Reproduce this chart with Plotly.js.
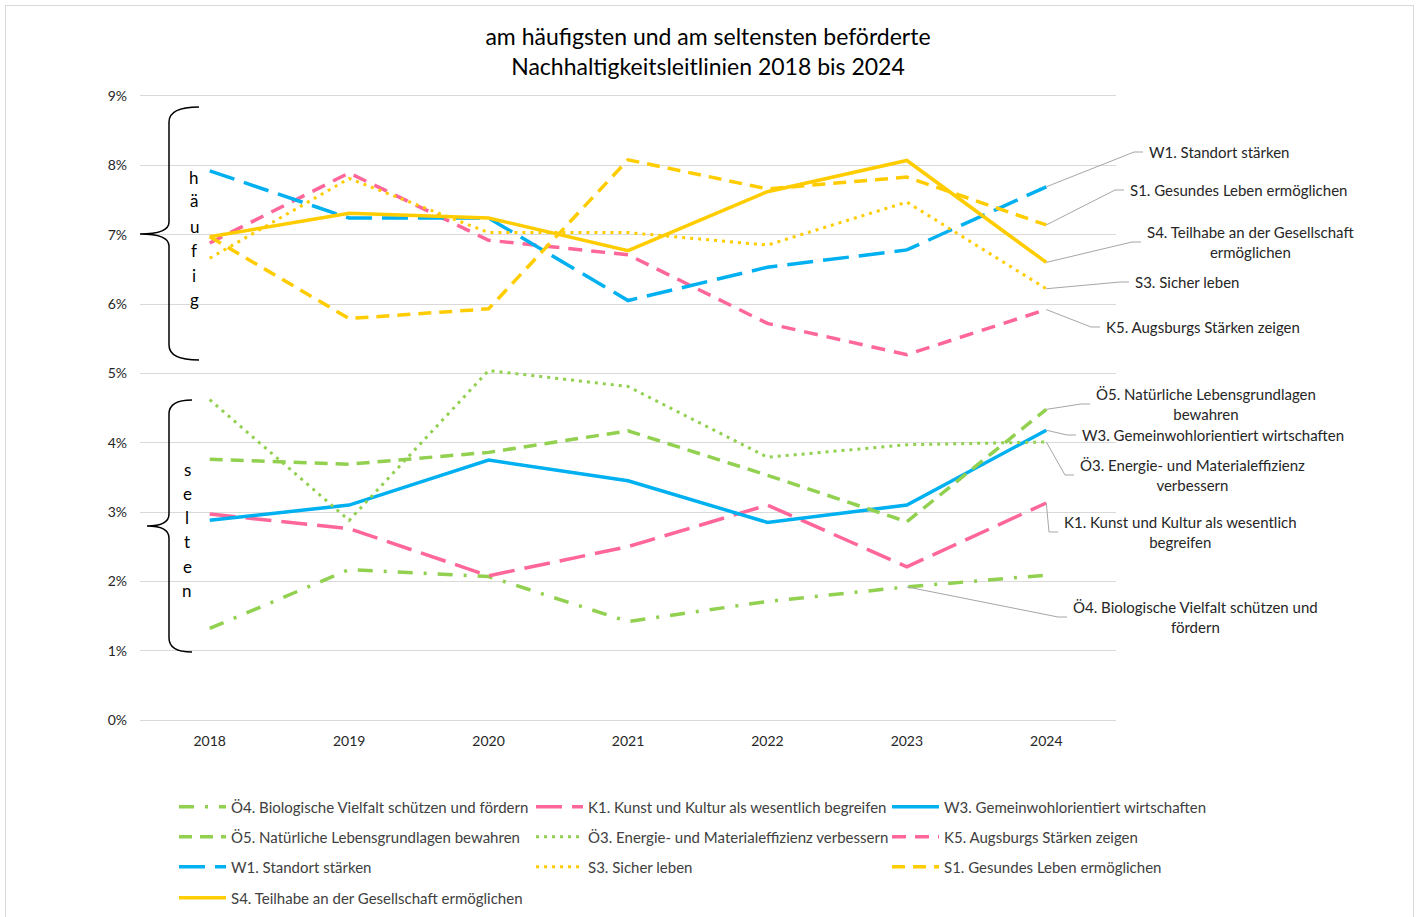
<!DOCTYPE html>
<html>
<head>
<meta charset="utf-8">
<script src="https://cdn.plot.ly/plotly-3.0.1.min.js"></script>
<style>
html,body{margin:0;padding:0;background:#fff;}
#chart{position:absolute;left:0;top:0;width:1416px;height:917px;}
#frame{position:absolute;left:5px;top:5px;width:1407px;height:920px;border:1px solid #d9d9d9;pointer-events:none;}
</style>
</head>
<body>
<div id="chart"></div>
<div id="frame"></div>
<script>
const years = ['2018','2019','2020','2021','2022','2023','2024'];

// häufig (most frequently promoted)
const W1 = [7.92, 7.24, 7.24, 6.05, 6.53, 6.78, 7.69];
const K5 = [6.88, 7.89, 6.92, 6.71, 5.72, 5.27, 5.92];
const S1 = [6.97, 5.79, 5.93, 8.08, 7.66, 7.83, 7.14];
const S4 = [6.97, 7.31, 7.24, 6.77, 7.62, 8.07, 6.60];
const S3 = [6.66, 7.81, 7.03, 7.03, 6.85, 7.47, 6.22];
// selten (least frequently promoted)
const O3 = [4.62, 2.88, 5.04, 4.81, 3.79, 3.97, 4.01];
const O5 = [3.76, 3.69, 3.86, 4.17, 3.53, 2.86, 4.48];
const W3 = [2.88, 3.10, 3.75, 3.45, 2.85, 3.10, 4.18];
const K1 = [2.97, 2.76, 2.08, 2.50, 3.10, 2.21, 3.13];
const O4 = [1.32, 2.17, 2.07, 1.42, 1.71, 1.92, 2.09];

const names = {
  O4: 'Ö4. Biologische Vielfalt schützen und fördern',
  K1: 'K1. Kunst und Kultur als wesentlich begreifen',
  W3: 'W3. Gemeinwohlorientiert wirtschaften',
  O5: 'Ö5. Natürliche Lebensgrundlagen bewahren',
  O3: 'Ö3. Energie- und Materialeffizienz verbessern',
  K5: 'K5. Augsburgs Stärken zeigen',
  W1: 'W1. Standort stärken',
  S3: 'S3. Sicher leben',
  S1: 'S1. Gesundes Leben ermöglichen',
  S4: 'S4. Teilhabe an der Gesellschaft ermöglichen'
};
const labelTexts = {
  W1: 'W1. Standort stärken',
  S1: 'S1. Gesundes Leben ermöglichen',
  S4: 'S4. Teilhabe an der Gesellschaft<br>ermöglichen',
  S3: 'S3. Sicher leben',
  K5: 'K5. Augsburgs Stärken zeigen',
  O5: 'Ö5. Natürliche Lebensgrundlagen<br>bewahren',
  W3: 'W3. Gemeinwohlorientiert wirtschaften',
  O3: 'Ö3. Energie- und Materialeffizienz<br>verbessern',
  K1: 'K1. Kunst und Kultur als wesentlich<br>begreifen',
  O4: 'Ö4. Biologische Vielfalt schützen und<br>fördern'
};

const GREEN = '#92D050', PINK = '#FF6699', BLUE = '#00B0F0', YELLOW = '#FFCC00';
const data = {O4, K1, W3, O5, O3, K5, W1, S3, S1, S4};
const styles = {
  O4: {color: GREEN, width: 3.5, dash: '15px,11px,3px,11px'},
  K1: {color: PINK, width: 3.5, dash: '26px,10px'},
  W3: {color: BLUE, width: 3.5, dash: 'solid'},
  O5: {color: GREEN, width: 3.5, dash: '13px,8px'},
  O3: {color: GREEN, width: 3, dash: '3px,5px'},
  K5: {color: PINK, width: 3.5, dash: '14px,9px'},
  W1: {color: BLUE, width: 3.5, dash: '26px,10px'},
  S3: {color: YELLOW, width: 3, dash: '3px,5px'},
  S1: {color: YELLOW, width: 3.5, dash: '13px,8px'},
  S4: {color: YELLOW, width: 3.5, dash: 'solid'}
};
const order = ['O4','K1','W3','O5','O3','K5','W1','S3','S1','S4'];
// legend grid: column symbol-start x px, row center y px
const legCols = [180, 537, 893], legRows = [807, 837, 867, 898];

const traces = order.map((k, i) => ({
  type: 'scatter', mode: 'lines', x: years, y: data[k], name: names[k],
  line: {color: styles[k].color, width: styles[k].width, dash: styles[k].dash},
  legend: i === 0 ? 'legend' : 'legend' + (i + 1), hoverinfo: 'x+y+name'
}));

// pixel -> paper helpers (plot area 140..1116 x 96..720)
const L = 140, R = 1116, T = 96, B = 720;
const px = v => (v - L) / (R - L);
const py = v => (B - v) / (B - T);
const P = (x, y) => px(x) + ',' + py(y);
const up = 'M' + P(199,107) + ' Q' + P(169,107) + ' ' + P(169,122) + ' L' + P(169,222) +
  ' Q' + P(169,234) + ' ' + P(140,234) + ' Q' + P(169,234) + ' ' + P(169,246) +
  ' L' + P(169,345) + ' Q' + P(169,360) + ' ' + P(199,360);
const lo = 'M' + P(192,400) + ' Q' + P(169,400) + ' ' + P(169,414) + ' L' + P(169,514) +
  ' Q' + P(169,526) + ' ' + P(147,526) + ' Q' + P(169,526) + ' ' + P(169,538) +
  ' L' + P(169,638) + ' Q' + P(169,652) + ' ' + P(192,652);

const shapes = [
  {type: 'path', xref: 'paper', yref: 'paper', path: up, line: {color: '#000', width: 1.5}},
  {type: 'path', xref: 'paper', yref: 'paper', path: lo, line: {color: '#000', width: 1.5}}
];

const annotations = [];
// vertical letters
const hf = 'häufig', sl = 'selten';
const hfY = [177, 201, 226, 250, 275, 299], slY = [469, 493, 517, 541, 566, 590];
for (let i = 0; i < hf.length; i++) {
  annotations.push({xref: 'paper', yref: 'paper', x: px(194), y: py(hfY[i]), text: hf[i], showarrow: false,
    xanchor: 'center', yanchor: 'middle', font: {size: 17, color: '#000', family: 'Lato, sans-serif'}});
}
for (let i = 0; i < sl.length; i++) {
  annotations.push({xref: 'paper', yref: 'paper', x: px(187), y: py(slY[i]), text: sl[i], showarrow: false,
    xanchor: 'center', yanchor: 'middle', font: {size: 17, color: '#000', family: 'Lato, sans-serif'}});
}
// data labels with bent leader lines: [key, point index, label left x px, label center y px]
const labelPos = [
  ['W1', 6, 1147, 152], ['S1', 6, 1128, 190], ['S4', 6, 1145, 242], ['S3', 6, 1133, 282],
  ['K5', 6, 1104, 327], ['O5', 6, 1094, 404], ['W3', 6, 1080, 435], ['O3', 6, 1078, 475],
  ['K1', 6, 1062, 532], ['O4', 5, 1071, 617]
];
const xPix = i => L + (R - L) * (i + 0.5) / years.length;
const yPix = v => B - (B - T) * v / 9;
labelPos.forEach(([k, i, lx, ly]) => {
  const ptx = xPix(i), pty = yPix(data[k][i]);
  shapes.push({type: 'path', xref: 'paper', yref: 'paper',
    path: 'M' + P(ptx, pty) + ' L' + P(lx - 13, ly) + ' L' + P(lx - 4, ly),
    line: {color: '#a6a6a6', width: 1}});
  annotations.push({x: px(lx), y: py(ly), xref: 'paper', yref: 'paper', text: labelTexts[k], showarrow: false,
    xanchor: 'left', yanchor: 'middle', align: 'center',
    font: {size: 15, color: '#262626', family: 'Lato, sans-serif'}});
});

const layout = {
  width: 1416, height: 917,
  margin: {l: L, r: 1416 - R, t: T, b: 917 - B, autoexpand: false},
  paper_bgcolor: '#fff', plot_bgcolor: '#fff',
  font: {family: 'Lato, sans-serif', color: '#595959'},
  title: {text: 'am häufigsten und am seltensten beförderte<br>Nachhaltigkeitsleitlinien 2018 bis 2024',
    x: 0.5, xref: 'container', xanchor: 'center', y: 1 - 45 / 917, yref: 'container', yanchor: 'middle',
    font: {size: 23, color: '#000', family: 'Lato, sans-serif'}},
  xaxis: {type: 'category', range: [-0.5, 6.5], showgrid: false, zeroline: false,
    showline: true, mirror: true, linecolor: '#d9d9d9', linewidth: 1, ticks: '',
    tickfont: {size: 14, color: '#262626'}, ticklabelstandoff: 8, fixedrange: true},
  yaxis: {range: [0, 9], dtick: 1, tick0: 0, ticksuffix: '%', showgrid: true, gridcolor: '#d9d9d9', gridwidth: 1,
    zeroline: false, showline: false, ticks: '', tickfont: {size: 14, color: '#262626'}, ticklabelstandoff: 12, fixedrange: true},
  showlegend: true,
  shapes, annotations
};
order.forEach((k, i) => {
  const key = i === 0 ? 'legend' : 'legend' + (i + 1);
  const col = i % 3, row = Math.floor(i / 3);
  layout[key] = {orientation: 'h', xanchor: 'left', yanchor: 'middle', itemwidth: 47,
    x: px(legCols[col] - 6), y: py(legRows[row]), bgcolor: 'rgba(0,0,0,0)',
    font: {size: 15, color: '#404040', family: 'Lato, sans-serif'}};
});
Plotly.newPlot('chart', traces, layout, {displayModeBar: false, staticPlot: true});
</script>
</body>
</html>
